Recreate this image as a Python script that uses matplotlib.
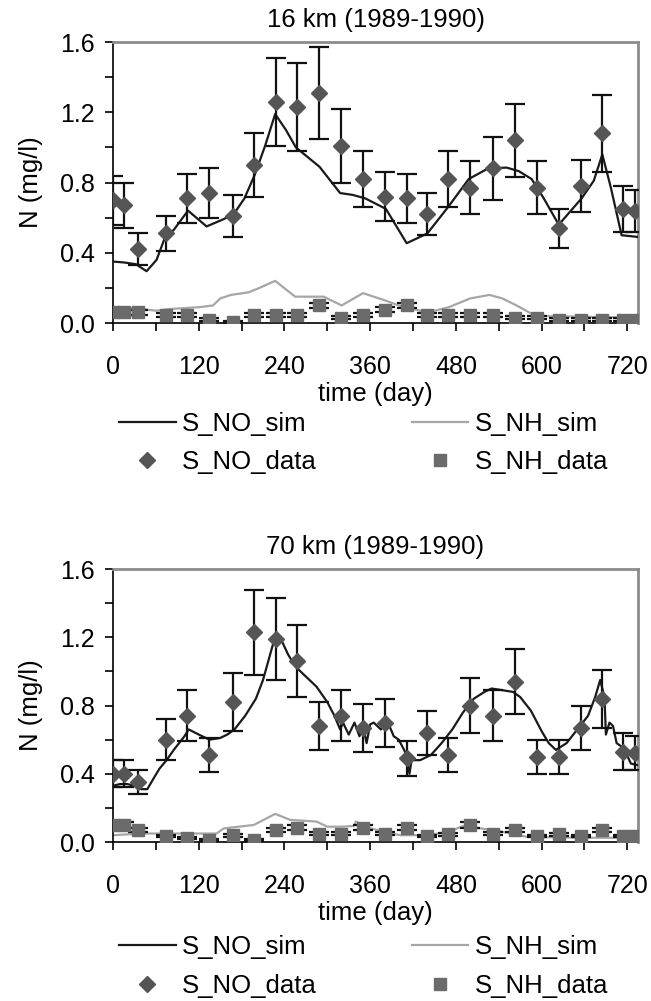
import matplotlib
matplotlib.use('Agg')
import matplotlib.pyplot as plt
from matplotlib.ticker import MultipleLocator, FormatStrFormatter

plt.rcParams['font.family'] = ['Liberation Sans', 'DejaVu Sans']

# sampling days (shared by both stations)
days = [0, 16, 35, 74, 104, 135, 168, 198, 228, 258, 289, 319, 350, 381,
        412, 440, 469, 500, 532, 563, 594, 624, 655, 684, 714, 731]

# ---- 16 km ----
no_data_16 = [0.70, 0.67, 0.42, 0.51, 0.71, 0.74, 0.61, 0.90, 1.26, 1.23, 1.31, 1.01, 0.82,
              0.72, 0.71, 0.62, 0.82, 0.77, 0.88, 1.04, 0.77, 0.54, 0.78, 1.08, 0.65, 0.64]
no_err_16 = [0.14, 0.13, 0.09, 0.10, 0.14, 0.14, 0.12, 0.18, 0.25, 0.25, 0.26, 0.21, 0.16,
             0.14, 0.14, 0.12, 0.16, 0.15, 0.18, 0.21, 0.15, 0.11, 0.15, 0.22, 0.13, 0.12]
nh_data_16 = [0.06, 0.06, 0.06, 0.045, 0.045, 0.02, 0.005, 0.045, 0.045, 0.045, 0.10, 0.03, 0.045,
              0.075, 0.10, 0.045, 0.045, 0.045, 0.045, 0.03, 0.03, 0.02, 0.02, 0.02, 0.02, 0.02]
nh_err_16 = [0.012, 0.012, 0.012, 0.01, 0.01, 0.008, 0.006, 0.01, 0.01, 0.01, 0.015, 0.008, 0.01,
             0.014, 0.015, 0.01, 0.01, 0.01, 0.01, 0.008, 0.008, 0.007, 0.007, 0.007, 0.007, 0.007]

no_sim_t_16 = [0, 15, 32, 47, 61, 73, 85, 105, 131, 154, 169, 184, 198, 213, 227, 242, 256,
               289, 318, 335, 353, 382, 411, 414, 440, 469, 498, 525, 551, 568, 586, 603, 624,
               656, 673, 685, 697, 712, 735]
no_sim_16 = [0.35, 0.345, 0.335, 0.295, 0.36, 0.49, 0.53, 0.64, 0.55, 0.59, 0.62, 0.71, 0.84,
             1.01, 1.19, 1.10, 1.00, 0.89, 0.74, 0.73, 0.71, 0.65, 0.455, 0.46, 0.51, 0.66,
             0.82, 0.88, 0.885, 0.865, 0.82, 0.71, 0.56, 0.71, 0.81, 0.96, 0.77, 0.50, 0.49]

nh_sim_t_16 = [0, 40, 60, 80, 120, 140, 150, 165, 190, 205, 227, 255, 295, 320, 350, 380,
               400, 420, 440, 470, 500, 527, 545, 565, 585, 600, 735]
nh_sim_16 = [0.09, 0.08, 0.07, 0.08, 0.09, 0.10, 0.14, 0.16, 0.175, 0.20, 0.24, 0.15, 0.15,
             0.10, 0.17, 0.13, 0.10, 0.08, 0.06, 0.09, 0.14, 0.16, 0.14, 0.10, 0.055, 0.04, 0.03]

# ---- 70 km ----
no_data_70 = [0.40, 0.40, 0.35, 0.60, 0.74, 0.51, 0.82, 1.23, 1.19, 1.06, 0.68, 0.74, 0.67,
              0.70, 0.49, 0.64, 0.51, 0.80, 0.74, 0.94, 0.50, 0.50, 0.67, 0.84, 0.53, 0.52]
no_err_70 = [0.08, 0.08, 0.07, 0.12, 0.15, 0.10, 0.17, 0.25, 0.24, 0.21, 0.14, 0.15, 0.14,
             0.14, 0.10, 0.13, 0.10, 0.16, 0.15, 0.19, 0.10, 0.10, 0.13, 0.17, 0.11, 0.10]
nh_data_70 = [0.10, 0.10, 0.07, 0.035, 0.025, 0.01, 0.04, 0.01, 0.07, 0.085, 0.05, 0.05, 0.085,
              0.05, 0.085, 0.035, 0.045, 0.10, 0.05, 0.07, 0.035, 0.045, 0.035, 0.07, 0.035, 0.035]
nh_err_70 = [0.015, 0.015, 0.012, 0.008, 0.007, 0.006, 0.009, 0.006, 0.012, 0.014, 0.01, 0.01, 0.014,
             0.01, 0.014, 0.008, 0.009, 0.015, 0.01, 0.012, 0.008, 0.009, 0.008, 0.012, 0.008, 0.008]

no_sim_t_70 = [0, 10, 20, 30, 40, 48, 55, 65, 75, 85, 100, 106, 120, 135, 150, 160, 170, 185,
               200, 210, 220, 228, 235, 245, 255, 270, 285, 300, 310, 318, 322, 330, 338, 345,
               350, 355, 360, 365, 375, 385, 393, 400, 410, 415, 418, 430, 445, 460, 475, 490,
               505, 520, 530, 545, 560, 570, 585, 600, 610, 620, 635, 650, 665, 675, 682, 688,
               690, 695, 700, 705, 715, 725, 735]
no_sim_70 = [0.33, 0.34, 0.34, 0.33, 0.31, 0.31, 0.36, 0.43, 0.48, 0.54, 0.62, 0.66, 0.63,
             0.60, 0.61, 0.63, 0.66, 0.74, 0.84, 0.95, 1.10, 1.22, 1.19, 1.10, 1.03, 0.97,
             0.91, 0.82, 0.74, 0.66, 0.70, 0.63, 0.70, 0.62, 0.68, 0.58, 0.69, 0.70, 0.66,
             0.70, 0.62, 0.60, 0.52, 0.40, 0.48, 0.48, 0.51, 0.58, 0.66, 0.76, 0.84, 0.88,
             0.90, 0.89, 0.88, 0.85, 0.77, 0.65, 0.58, 0.54, 0.58, 0.66, 0.74, 0.85, 0.95,
             0.85, 0.63, 0.70, 0.68, 0.58, 0.55, 0.46, 0.45]

nh_sim_t_70 = [0, 40, 80, 120, 145, 155, 197, 227, 248, 285, 300, 320, 337, 340, 355, 380,
               402, 440, 470, 490, 515, 545, 580, 658, 735]
nh_sim_70 = [0.04, 0.05, 0.05, 0.05, 0.05, 0.08, 0.10, 0.165, 0.13, 0.12, 0.09, 0.09, 0.094,
             0.12, 0.086, 0.06, 0.04, 0.04, 0.06, 0.094, 0.08, 0.06, 0.03, 0.025, 0.025]

panels = [
    ('16 km (1989-1990)', no_sim_t_16, no_sim_16, nh_sim_t_16, nh_sim_16,
     no_data_16, no_err_16, nh_data_16, nh_err_16, [0.1736, 0.6773, 0.8065, 0.2807], 0.5574),
    ('70 km (1989-1990)', no_sim_t_70, no_sim_70, nh_sim_t_70, nh_sim_70,
     no_data_70, no_err_70, nh_data_70, nh_err_70, [0.1736, 0.1588, 0.8065, 0.2727], 0.0345),
]

FS = 18.5
TS = 18
fig = plt.figure(figsize=(6.51, 10.01), dpi=100)
fig.patch.set_facecolor('white')

for (title, t1, s1, t2, s2, nod, noe, nhd, nhe, rect, leg_y) in panels:
    ax = fig.add_axes(rect)
    ax.plot(t1, s1, color='#1a1a1a', lw=1.6, label='S_NO_sim', zorder=3)
    ax.plot(t2, s2, color='#a6a6a6', lw=1.6, label='S_NH_sim', zorder=2)
    ax.errorbar(days, nod, yerr=noe, fmt='none', ecolor='#111111', elinewidth=1.6,
                capsize=7.5, capthick=1.6, zorder=4)
    ax.errorbar(days, nhd, yerr=nhe, fmt='none', ecolor='#111111', elinewidth=1.6,
                capsize=7.5, capthick=1.6, zorder=4)
    ax.plot(days, nod, 'D', color='#555555', ms=8, ls='none', label='S_NO_data', zorder=5)
    ax.plot(days, nhd, 's', color='#6b6b6b', ms=9, ls='none', label='S_NH_data', zorder=5)

    ax.set_xlim(0, 735)
    ax.set_ylim(0, 1.6)
    ax.xaxis.set_major_locator(MultipleLocator(120))
    ax.xaxis.set_minor_locator(MultipleLocator(60))
    ax.yaxis.set_major_locator(MultipleLocator(0.4))
    ax.yaxis.set_minor_locator(MultipleLocator(0.2))
    ax.yaxis.set_major_formatter(FormatStrFormatter('%.1f'))
    ax.tick_params(which='both', direction='out', length=6, width=1.2, colors='black',
                   labelsize=TS)
    ax.tick_params(axis='x', pad=17)
    ax.tick_params(axis='y', pad=7)
    for side in ('left', 'bottom'):
        ax.spines[side].set_color('black')
        ax.spines[side].set_linewidth(1.2)
    for side in ('top', 'right'):
        ax.spines[side].set_color('#8c8c8c')
        ax.spines[side].set_linewidth(2)

    ax.set_title(title, fontsize=FS, pad=11)
    ax.set_xlabel('time (day)', fontsize=FS, labelpad=2)
    ax.set_ylabel('N (mg/l)', fontsize=FS, labelpad=12)

    h, l = ax.get_legend_handles_labels()
    order = [0, 2, 1, 3]
    fig.legend([h[i] for i in order], [l[i] for i in order], ncol=2, frameon=False,
               loc='center left', bbox_to_anchor=(119 / 651, leg_y), fontsize=FS,
               borderpad=0, borderaxespad=0,
               handlelength=2.2, columnspacing=3.7, handletextpad=0.25, labelspacing=0.56)

fig.savefig('out.png', dpi=100, facecolor='white')
